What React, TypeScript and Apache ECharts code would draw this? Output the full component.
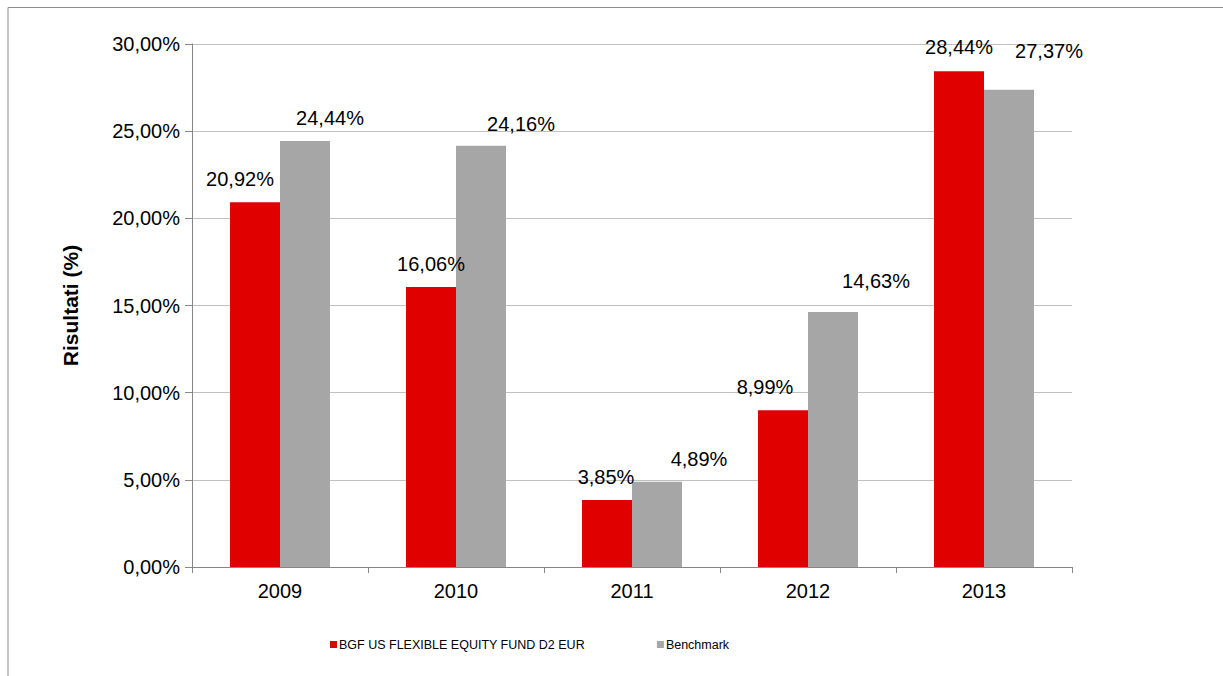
import React, { useEffect, useRef } from "react";
import * as echarts from "echarts";

const categories = ["2009", "2010", "2011", "2012", "2013"];
const fundName = "BGF US FLEXIBLE EQUITY FUND D2 EUR";
const benchName = "Benchmark";
const fundValues = [20.92, 16.06, 3.85, 8.99, 28.44];
const benchValues = [24.44, 24.16, 4.89, 14.63, 27.37];
const yTicks = { min: 0, max: 30, interval: 5 };
const yAxisTitle = "Risultati (%)";

// label placement tweaks (style only)
const fundLabelOffsets: [number, number][] = [[-15, 0], [0, 0], [-1, 0], [-18, 0], [0, -1]];
const benchLabelOffsets: [number, number][] = [[25, 0], [40, 1], [42, 0], [43, -8], [40, -16]];

const fmt = (v: number) => v.toFixed(2).replace(".", ",") + "%";
const FONT = "'Liberation Sans', Arial, sans-serif";

export default function App() {
  const ref = useRef<HTMLDivElement>(null);
  useEffect(() => {
    if (!ref.current) return;
    const chart = echarts.init(ref.current, undefined, { renderer: "svg" });
    const mkData = (vals: number[], offs: [number, number][]) =>
      vals.map((v, i) => ({ value: v, label: { offset: offs[i] } }));
    chart.setOption({
      animation: false,
      backgroundColor: "#ffffff",
      textStyle: { fontFamily: FONT },
      grid: { left: 192, top: 44, right: 151, bottom: 109, containLabel: false },
      legend: {
        left: 325,
        top: 633,
        itemWidth: 7,
        itemHeight: 7,
        itemGap: 72,
        icon: "rect",
        textStyle: { fontSize: 12.5, color: "#000", fontFamily: FONT, padding: [0, 0, 0, -3] },
        data: [fundName, benchName],
      },
      xAxis: {
        type: "category",
        data: categories,
        axisLine: { lineStyle: { color: "#868686", width: 1 } },
        axisTick: { show: true, length: 6, lineStyle: { color: "#868686" } },
        axisLabel: { fontSize: 20, color: "#000", margin: 14, fontFamily: FONT },
      },
      yAxis: {
        type: "value",
        min: yTicks.min,
        max: yTicks.max,
        interval: yTicks.interval,
        name: yAxisTitle,
        nameLocation: "middle",
        nameGap: 111,
        nameRotate: 90,
        nameTextStyle: { fontSize: 21, fontWeight: "bold", color: "#000", fontFamily: FONT },
        axisLine: { show: true, lineStyle: { color: "#868686", width: 1 } },
        axisTick: { show: true, length: 7, lineStyle: { color: "#868686" } },
        axisLabel: { fontSize: 20, color: "#000", margin: 12, formatter: (v: number) => fmt(v), fontFamily: FONT },
        splitLine: { show: true, lineStyle: { color: "#c0c0c0", width: 1 } },
      },
      series: [
        {
          name: fundName,
          type: "bar",
          barWidth: 50,
          barGap: "0%",
          itemStyle: { color: "#E00000" },
          label: {
            show: true,
            position: "top",
            distance: 13,
            fontSize: 20,
            color: "#000",
            fontFamily: FONT,
            formatter: (p: any) => fmt(p.value),
          },
          data: mkData(fundValues, fundLabelOffsets),
        },
        {
          name: benchName,
          type: "bar",
          barWidth: 50,
          barGap: "0%",
          itemStyle: { color: "#A6A6A6" },
          label: {
            show: true,
            position: "top",
            distance: 13,
            fontSize: 20,
            color: "#000",
            fontFamily: FONT,
            formatter: (p: any) => fmt(p.value),
          },
          data: mkData(benchValues, benchLabelOffsets),
        },
      ],
      graphic: [
        { type: "line", shape: { x1: 8, y1: 7.5, x2: 1223, y2: 7.5 }, style: { stroke: "#8c8c8c", lineWidth: 1 } },
        { type: "line", shape: { x1: 8, y1: 7.5, x2: 8, y2: 676 }, style: { stroke: "#8c8c8c", lineWidth: 1 } },
      ],
    });
    return () => chart.dispose();
  }, []);
  return (
    <div
      ref={ref}
      style={{ position: "absolute", left: 0, top: 0, width: 1223, height: 676, background: "#fff" }}
    />
  );
}
